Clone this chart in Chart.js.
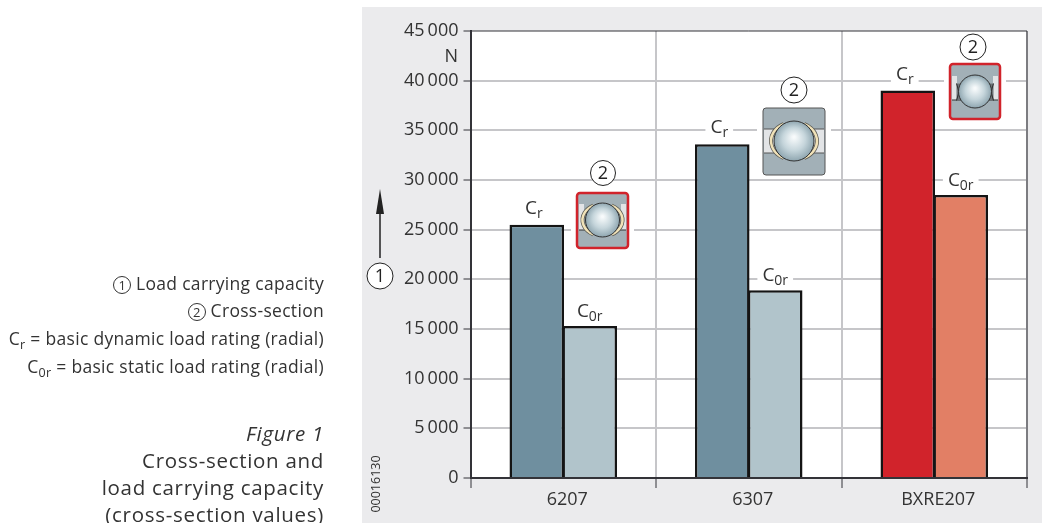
<!DOCTYPE html>
<html>
<head>
<meta charset="utf-8">
<script src="https://cdn.jsdelivr.net/npm/chart.js@4"></script>
<style>
html,body{margin:0;padding:0;background:#fff;width:1042px;height:523px;overflow:hidden;}
#panel{position:absolute;left:362px;top:7px;width:680px;height:516px;background:#ebebed;}
#wrap{position:absolute;left:0;top:0;width:1042px;height:523px;}
.notes{position:absolute;right:718px;text-align:right;color:#333;font-family:"Open Sans",sans-serif;white-space:nowrap;}
.notes div{position:absolute;right:0;}
#legend{top:0;font-size:17.5px;letter-spacing:.3px;}
#caption{top:0;font-size:20.5px;letter-spacing:.7px;}
sub{font-size:12.5px;line-height:0;vertical-align:-4px;}
.num{display:inline-block;width:18px;height:18px;line-height:17px;border:1px solid #333;border-radius:50%;text-align:center;font-size:13px;box-sizing:border-box;vertical-align:0;letter-spacing:0;}
</style>
</head>
<body>
<div id="panel"></div>
<div id="wrap"><canvas id="chart" width="1042" height="523"></canvas></div>
<div class="notes" id="legend">
  <div style="top:271px"><span class="num">1</span> Load carrying capacity</div>
  <div style="top:298px"><span class="num">2</span> Cross-section</div>
  <div style="top:326px">C<sub>r</sub> = basic dynamic load rating (radial)</div>
  <div style="top:354px">C<sub>0r</sub> = basic static load rating (radial)</div>
</div>
<div class="notes" id="caption">
  <div style="top:419px"><i>Figure 1</i></div>
  <div style="top:446px">Cross-section and</div>
  <div style="top:473px">load carrying capacity</div>
  <div style="top:500px">(cross-section values)</div>
</div>
<script>
const categories = ["6207", "6307", "BXRE207"];
const dynamicRating = [25500, 33600, 39000];
const staticRating = [15300, 18900, 28500];
const yTicks = [0, 5000, 10000, 15000, 20000, 25000, 30000, 35000, 40000, 45000];
const unitLabel = "N";
const drawingNo = "00016130";

const dark = "#333338";
const gridGrey = "#c6c6c9";
const font = '"Open Sans", sans-serif';

function fmt(v){
  if(v < 1000) return String(v);
  return Math.floor(v/1000) + "\u2009" + String(v%1000).padStart(3, "0");
}

function circled(ctx, txt, x, y, r){
  ctx.save();
  ctx.beginPath();
  ctx.arc(x, y, r, 0, Math.PI*2);
  ctx.fillStyle = "#fff";
  ctx.fill();
  ctx.lineWidth = 1;
  ctx.strokeStyle = "#222";
  ctx.stroke();
  ctx.fillStyle = "#222";
  ctx.font = "18px " + font;
  ctx.textAlign = "center";
  ctx.textBaseline = "middle";
  ctx.fillText(txt, x, y+1);
  ctx.restore();
}

// C with subscript, white box behind so the grid line stops at the text
function ratingLabel(ctx, sub, cx, baseY){
  ctx.save();
  ctx.textBaseline = "alphabetic";
  ctx.textAlign = "left";
  ctx.font = "19px " + font;
  const w1 = ctx.measureText("C").width;
  ctx.font = "14px " + font;
  const w2 = ctx.measureText(sub).width;
  const left = cx - (w1+w2)/2;
  ctx.fillStyle = "#fff";
  ctx.fillRect(left-5, baseY-15, w1+w2+10, 20);
  ctx.fillStyle = "#333";
  ctx.font = "19px " + font;
  ctx.fillText("C", left, baseY);
  ctx.font = "14px " + font;
  ctx.fillText(sub, left+w1, baseY+4);
  ctx.restore();
}

function bearing(ctx, x, y, w, h, r, band, red, seal){
  ctx.save();
  // white halo on the grid
  ctx.fillStyle = "#fff";
  ctx.fillRect(x-6, y-3, w+12, h+6);
  ctx.beginPath();
  ctx.roundRect(x, y, w, h, 3);
  ctx.fillStyle = "#a2b0b7";
  ctx.fill();
  const cx = x + w/2, cy = band.c;
  // light band between the rings
  ctx.fillStyle = "#e2e4e6";
  if(band.full){
    ctx.fillRect(x+1, band.t, w-2, band.b-band.t);
    ctx.strokeStyle = "#555";
    ctx.lineWidth = 1;
    ctx.beginPath();
    ctx.moveTo(x+1, band.t); ctx.lineTo(x+w-1, band.t);
    ctx.moveTo(x+1, band.b); ctx.lineTo(x+w-1, band.b);
    ctx.stroke();
  } else {
    // only small shoulders and a lower ring edge
    ctx.fillRect(x+2, band.t, 5, band.b-band.t);
    ctx.fillRect(x+w-7, band.t, 5, band.b-band.t);
    ctx.strokeStyle = "#333";
    ctx.lineWidth = 1;
    ctx.beginPath();
    ctx.moveTo(x+2, band.b); ctx.lineTo(x+w-2, band.b);
    ctx.stroke();
  }
  if(seal){
    ctx.strokeStyle = "#2c2c2c";
    ctx.lineWidth = 1;
    [-1, 1].forEach(function(s){
      const a = cx + s*(r-3), b = cx + s*(r+2);
      ctx.fillStyle = "#6f7478";
      ctx.fillRect(Math.min(a, b), cy-8, 5, 17);
      ctx.beginPath();
      ctx.moveTo(a, cy-8); ctx.lineTo(b, cy+9);
      ctx.moveTo(b, cy-8); ctx.lineTo(a, cy+9);
      ctx.stroke();
    });
  } else {
    // cage, dark edge with cream on top
    [-1, 1].forEach(function(s){
      const st = s > 0 ? -1.1 : Math.PI-1.1, en = s > 0 ? 1.1 : Math.PI+1.1;
      ctx.beginPath();
      ctx.ellipse(cx, cy, r+3, r*0.95, 0, st, en);
      ctx.lineWidth = 4;
      ctx.strokeStyle = "#5b5b55";
      ctx.stroke();
      ctx.beginPath();
      ctx.ellipse(cx, cy, r+3, r*0.95, 0, st, en);
      ctx.lineWidth = 2.5;
      ctx.strokeStyle = "#f1e2b8";
      ctx.stroke();
    });
  }
  // ball
  const g = ctx.createRadialGradient(cx, cy-r*0.2, 1, cx, cy, r);
  g.addColorStop(0, "#f7fafb");
  g.addColorStop(0.55, "#c5d5db");
  g.addColorStop(1, "#8fa6b0");
  ctx.beginPath();
  ctx.arc(cx, cy, r, 0, Math.PI*2);
  ctx.fillStyle = g;
  ctx.fill();
  ctx.lineWidth = 1;
  ctx.strokeStyle = "#333";
  ctx.stroke();
  // outline
  ctx.beginPath();
  ctx.roundRect(x, y, w, h, 3);
  ctx.lineWidth = red ? 2.5 : 1;
  ctx.strokeStyle = red ? "#d1232b" : "#555";
  ctx.stroke();
  ctx.restore();
}

const extras = {
  id: "extras",
  beforeDraw(c){
    const a = c.chartArea, ctx = c.ctx;
    ctx.save();
    ctx.fillStyle = "#fff";
    ctx.fillRect(a.left, a.top, a.right-a.left, a.bottom-a.top);
    ctx.restore();
  },
  afterDatasetsDraw(c){
    const ctx = c.ctx, a = c.chartArea;
    const m0 = c.getDatasetMeta(0).data, m1 = c.getDatasetMeta(1).data;

    // frame top and right
    ctx.save();
    ctx.strokeStyle = dark;
    ctx.lineWidth = 1;
    ctx.beginPath();
    ctx.moveTo(a.left, a.top);
    ctx.lineTo(a.right, a.top);
    ctx.lineTo(a.right, a.bottom);
    ctx.stroke();
    ctx.restore();

    categories.forEach(function(n, i){
      ratingLabel(ctx, "r", m0[i].x-3, m0[i].y-11);
      ratingLabel(ctx, "0r", m1[i].x, m1[i].y-9);
    });

    bearing(ctx, 577, 193, 51, 55, 17, {t:204, b:230, c:220}, true, false);
    circled(ctx, "2", 603, 173, 12.5);
    bearing(ctx, 763, 108, 62, 67, 20, {t:129, b:153, c:141, full:true}, false, false);
    circled(ctx, "2", 794, 90, 13);
    bearing(ctx, 950, 64, 50, 55, 16.5, {t:76, b:100, c:91.5}, true, true);
    circled(ctx, "2", 973, 47, 13);

    // unit, arrow, callout and drawing number
    ctx.save();
    ctx.fillStyle = "#333";
    ctx.font = "18px " + font;
    ctx.textAlign = "right";
    ctx.textBaseline = "middle";
    ctx.fillText(unitLabel, 458, 57);

    ctx.strokeStyle = "#222";
    ctx.lineWidth = 1.5;
    ctx.beginPath();
    ctx.moveTo(380, 258);
    ctx.lineTo(380, 205);
    ctx.stroke();
    ctx.fillStyle = "#222";
    ctx.beginPath();
    ctx.moveTo(380, 189);
    ctx.lineTo(384, 214);
    ctx.lineTo(376, 214);
    ctx.closePath();
    ctx.fill();
    circled(ctx, "1", 380, 276, 13);

    ctx.translate(376, 484);
    ctx.rotate(-Math.PI/2);
    ctx.fillStyle = "#333";
    ctx.font = "12.5px " + font;
    ctx.textAlign = "center";
    ctx.textBaseline = "middle";
    ctx.fillText(drawingNo, 0, 0);
    ctx.restore();
  }
};

new Chart(document.getElementById("chart"), {
  type: "bar",
  data: {
    labels: categories,
    datasets: [
      {
        label: "Cr",
        data: dynamicRating,
        backgroundColor: ["#6f8f9f", "#6f8f9f", "#d1232b"]
      },
      {
        label: "C0r",
        data: staticRating,
        backgroundColor: ["#b1c4cb", "#b1c4cb", "#e27f65"]
      }
    ]
  },
  options: {
    responsive: false,
    animation: false,
    devicePixelRatio: 1,
    layout: { padding: { left: 362, top: 31, right: 15, bottom: 0 } },
    plugins: { legend: { display: false }, tooltip: { enabled: false } },
    datasets: {
      bar: {
        categoryPercentage: 0.571,
        barPercentage: 1.03,
        borderWidth: 2.5,
        borderColor: "#141414"
      }
    },
    scales: {
      x: {
        afterFit(s){ s.height = 45; },
        grid: { color: gridGrey, lineWidth: 2, tickLength: 10, tickColor: dark, tickWidth: 1 },
        border: { color: dark, width: 2 },
        ticks: { color: "#333", font: { family: font, size: 18 }, padding: 1, maxRotation: 0, labelOffset: 4 }
      },
      y: {
        min: 0,
        max: 45000,
        afterFit(s){ s.width = 108.5; },
        afterBuildTicks(s){ s.ticks = yTicks.map(function(v){ return { value: v }; }); },
        grid: {
          color(c){ return c.tick && c.tick.value === 45000 ? "rgba(0,0,0,0)" : gridGrey; },
          lineWidth: 2,
          tickLength: 7,
          tickColor: dark,
          tickWidth: 1
        },
        border: { color: dark, width: 2 },
        ticks: {
          color: "#333",
          font: { family: font, size: 18 },
          padding: 5,
          callback(v){ return fmt(v); }
        }
      }
    }
  },
  plugins: [extras]
});
</script>
</body>
</html>
